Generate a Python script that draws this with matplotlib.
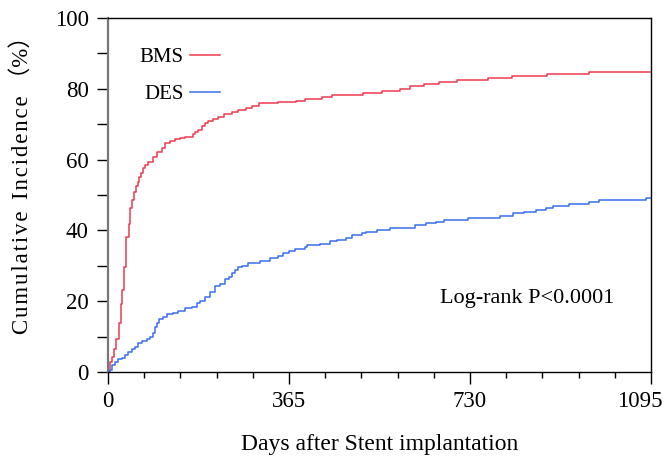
import numpy as np
import matplotlib.pyplot as plt
import matplotlib.transforms as mtransforms
from matplotlib.ticker import MultipleLocator

# Kaplan-Meier style cumulative incidence
bms_days = [0, 4, 7, 12, 17, 23, 26, 28, 32, 36, 42, 44, 48, 52, 56, 60, 63, 67, 71, 75,
            81, 91, 99, 108, 115, 125, 135, 145, 155, 171, 175, 182, 189, 196, 202, 212,
            222, 233, 249, 263, 278, 290, 305, 343, 379, 397, 431, 451, 514, 553, 589,
            609, 637, 668, 704, 766, 815, 885, 970, 1095]
bms_inc = [0, 2.9, 4.3, 6.5, 9.3, 13.8, 19.2, 23.2, 29.7, 38.1, 41.8, 46.3, 48.6, 50.8,
           52.5, 53.7, 55.2, 56.3, 57.5, 58.5, 59.4, 60.8, 62.2, 63.2, 64.6, 65.3, 65.7,
           66.2, 66.5, 67.2, 67.9, 68.5, 69.5, 70.4, 71.0, 71.6, 72.1, 72.8, 73.5, 74.0,
           74.6, 75.1, 75.9, 76.4, 76.6, 77.2, 77.8, 78.2, 78.9, 79.5, 79.9, 80.8, 81.5,
           81.9, 82.5, 83.0, 83.6, 84.2, 84.7, 84.7]

des_days = [0, 4, 7, 14, 21, 28, 34, 41, 48, 54, 61, 68, 78, 85, 91, 95, 99, 103, 110,
            118, 130, 142, 155, 169, 179, 186, 196, 206, 216, 226, 236, 243, 249, 256,
            263, 270, 283, 307, 327, 343, 353, 364, 377, 397, 401, 428, 448, 461, 480,
            491, 512, 520, 542, 569, 619, 641, 661, 678, 725, 790, 816, 839, 863, 883,
            898, 930, 969, 990, 1084, 1095]
des_inc = [0, 0.6, 2.0, 2.9, 3.6, 4.1, 4.8, 5.6, 6.4, 7.2, 8.1, 8.8, 9.2, 10.0, 10.9,
           12.8, 13.9, 14.9, 15.6, 16.3, 16.6, 17.2, 18.0, 18.5, 19.4, 20.1, 21.3, 22.7,
           24.3, 24.9, 26.2, 26.9, 27.9, 28.8, 29.6, 29.9, 30.9, 31.5, 32.1, 32.8, 33.5,
           34.2, 34.7, 35.4, 35.9, 36.3, 36.9, 37.4, 38.0, 38.6, 39.2, 39.6, 40.1, 40.8,
           41.4, 42.0, 42.5, 43.0, 43.5, 44.2, 44.8, 45.3, 45.9, 46.4, 47.0, 47.5, 48.0,
           48.6, 49.2, 49.2]

x_ticks = [0, 365, 730, 1095]
y_ticks = [0, 20, 40, 60, 80, 100]

RED = "#ef3a50"
BLUE = "#3b6ff0"
SERIF = ["Liberation Serif", "DejaVu Serif", "Noto Sans CJK JP"]

plt.rcParams["font.family"] = SERIF

fig = plt.figure(figsize=(6.67, 4.68), dpi=100)
ax = fig.add_axes([0.162, 0.205, 0.814, 0.7565])

ax.step(bms_days, bms_inc, where="post", color=RED, lw=1.1, label="BMS")
ax.step(des_days, des_inc, where="post", color=BLUE, lw=1.1, label="DES")

ax.set_xlim(0, 1095)
ax.set_ylim(0, 100)
ax.set_xticks(x_ticks)
ax.xaxis.set_minor_locator(MultipleLocator(73))
ax.set_yticks(y_ticks)
ax.yaxis.set_minor_locator(MultipleLocator(10))

ax.tick_params(axis="x", which="major", length=8.6, width=1, pad=5, labelsize=16.5, direction="out")
ax.tick_params(axis="x", which="minor", length=4.3, width=1, direction="out")
ax.tick_params(axis="y", which="both", length=8, width=1, pad=6, labelsize=16.5, direction="out")

# last x label is pulled in a little so it stays inside the figure
shift = mtransforms.ScaledTranslation(-11 / 100, 0, fig.dpi_scale_trans)
last = ax.get_xticklabels()[-1]
last.set_transform(last.get_transform() + shift)

for side in ["top", "right", "bottom"]:
    ax.spines[side].set_color("black")
    ax.spines[side].set_linewidth(1.0)
ax.spines["left"].set_color("#777777")
ax.spines["left"].set_linewidth(1.6)

ax.set_xlabel("Days after Stent implantation", fontsize=17, labelpad=16)
hs = "\u200a"
ylab = hs.join("Cumulative") + "  " + hs.join("Incidence") + " （%）"
ax.set_ylabel(ylab, fontsize=16.5)
ax.yaxis.set_label_coords(-0.138, 0.543)

ax.legend(loc="upper left", bbox_to_anchor=(0.024, 0.97), frameon=False, markerfirst=False,
          fontsize=15, handlelength=1.45, handletextpad=0.3, labelspacing=0.85)

ax.text(0.611, 0.209, "Log-rank P<0.0001", transform=ax.transAxes, fontsize=16,
        ha="left", va="center")

fig.savefig("out.png", dpi=100)
